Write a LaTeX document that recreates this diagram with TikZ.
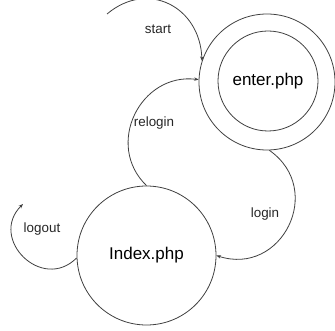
\documentclass[tikz,border=0pt]{standalone}
\usepackage{fontspec}
\setmainfont{Liberation Sans}
\usetikzlibrary{arrows.meta}
\newcommand\statefont{\fontsize{17}{20}\selectfont}
\newcommand\lblfont{\fontsize{13.4}{16}\selectfont}
\begin{document}
\begin{tikzpicture}[x=1pt,y=1pt,
  state/.style={circle, draw=black!75, line width=0.8pt, inner sep=0pt, font=\statefont},
  edge/.style={draw=black!75, line width=0.8pt, -{Stealth[length=4.5pt,width=3.5pt]}},
  lbl/.style={font=\lblfont, inner sep=0pt, text=black!85}]
\useasboundingbox (0,0) rectangle (335,-331);
\clip (0,0) rectangle (335,-331);
\node[state, minimum size=139pt] (index) at (146.5,-255.5) {Index.php};
\node[state, minimum size=136pt] (enter) at (267,-82) {};
\node[state, minimum size=100pt] (enterin) at (268,-81) {enter.php};
\coordinate (st) at (107,-14);
\coordinate (lo) at (23,-204);
\draw[edge] (st) to[out=40,in=92,looseness=1.3] (enter.162);
\draw[edge] (index.90) to[out=136,in=173,looseness=1.27] (enter.178);
\draw[edge] (enter.-88) to[out=-35,in=-18,looseness=1.49] (index.0);
\draw[edge] (index.182) to[out=-135,in=225,looseness=1.65] (lo);
\node[lbl] (lstart) at (158,-29) {start};
\node[lbl] (lrelogin) at (154,-123) {relogin};
\node[lbl] (llogin) at (265,-214) {login};
\node[lbl] (llogout) at (42,-229) {logout};
\end{tikzpicture}
\end{document}
